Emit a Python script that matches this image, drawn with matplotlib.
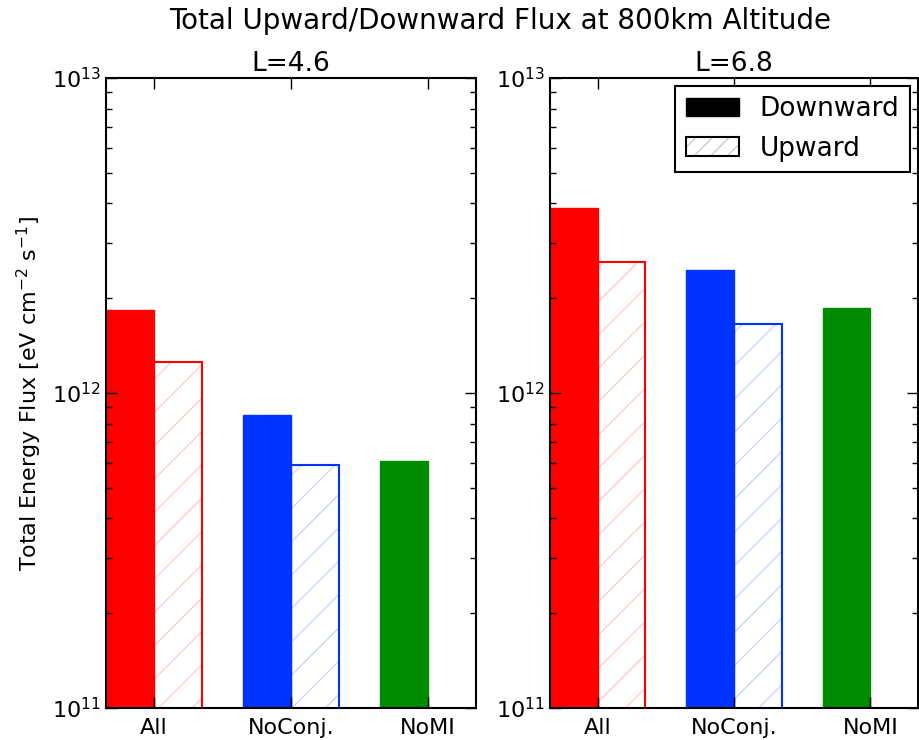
import numpy as np
import matplotlib
matplotlib.use("Agg")
import matplotlib.pyplot as plt
from matplotlib.patches import Patch
from matplotlib.legend_handler import HandlerTuple

# data
categories = ["All", "NoConj.", "NoMI"]
titles = ["L=4.6", "L=6.8"]
down_L46 = [1.83e12, 8.5e11, 6.1e11]
up_L46 = [1.25e12, 5.9e11, 0]
down_L68 = [3.86e12, 2.46e12, 1.86e12]
up_L68 = [2.61e12, 1.66e12, 0]
colors = ["#ff0000", "#0033ff", "#008c00"]

plt.rcParams["font.family"] = "DejaVu Sans"
plt.rcParams["hatch.linewidth"] = 1.0

fig = plt.figure(figsize=(9.2, 7.4), dpi=100)
ax1 = fig.add_axes([106/920, 1 - 708/740, 370/920, 630/740])
ax2 = fig.add_axes([550/920, 1 - 708/740, 368/920, 630/740])

w = 0.35
x = np.arange(len(categories))

for ax, down, up, title in [(ax1, down_L46, up_L46, titles[0]), (ax2, down_L68, up_L68, titles[1])]:
    ax.bar(x - w, down, width=w, align="edge", color=colors, edgecolor=colors, linewidth=1)
    for i in range(len(x)):
        if up[i] <= 0:
            continue
        ax.bar(x[i], up[i], width=w, align="edge", fill=False, hatch="/",
               edgecolor=colors[i], alpha=0.2, linewidth=0)
        ax.bar(x[i], up[i], width=w, align="edge", fill=False,
               edgecolor=colors[i], linewidth=1.5)
    ax.set_yscale("log")
    ax.set_ylim(1e11, 1e13)
    ax.set_xlim(-0.35, 2.35)
    ax.set_xticks(x)
    ax.set_xticklabels(categories)
    ax.tick_params(axis="both", which="both", direction="in", top=True, right=True, labelsize=16)
    ax.tick_params(axis="both", which="major", length=8, width=1)
    ax.tick_params(axis="both", which="minor", length=4, width=1)
    ax.tick_params(axis="x", pad=7)
    for s in ax.spines.values():
        s.set_linewidth(1.5)
    ax.set_title(title, fontsize=19, pad=5)

ax1.set_ylabel("Total Energy Flux [eV cm$^{-2}$ s$^{-1}$]", fontsize=16, labelpad=6)

hatch_handle = (Patch(fill=False, hatch="//", edgecolor="#cccccc", linewidth=0),
                Patch(fill=False, edgecolor="black", linewidth=1.5))
leg = ax2.legend([Patch(facecolor="black", edgecolor="black"), hatch_handle],
                 ["Downward", "Upward"], loc="upper right", fontsize=19,
                 fancybox=False, edgecolor="black", framealpha=1,
                 handlelength=2.0, handleheight=0.7, borderaxespad=0.3,
                 handler_map={tuple: HandlerTuple(ndivide=1, pad=0)})
leg.get_frame().set_linewidth(1.5)

fig.suptitle("Total Upward/Downward Flux at 800km Altitude", fontsize=20, x=0.544, y=0.99)

fig.savefig("out.png", dpi=100, facecolor="white")
